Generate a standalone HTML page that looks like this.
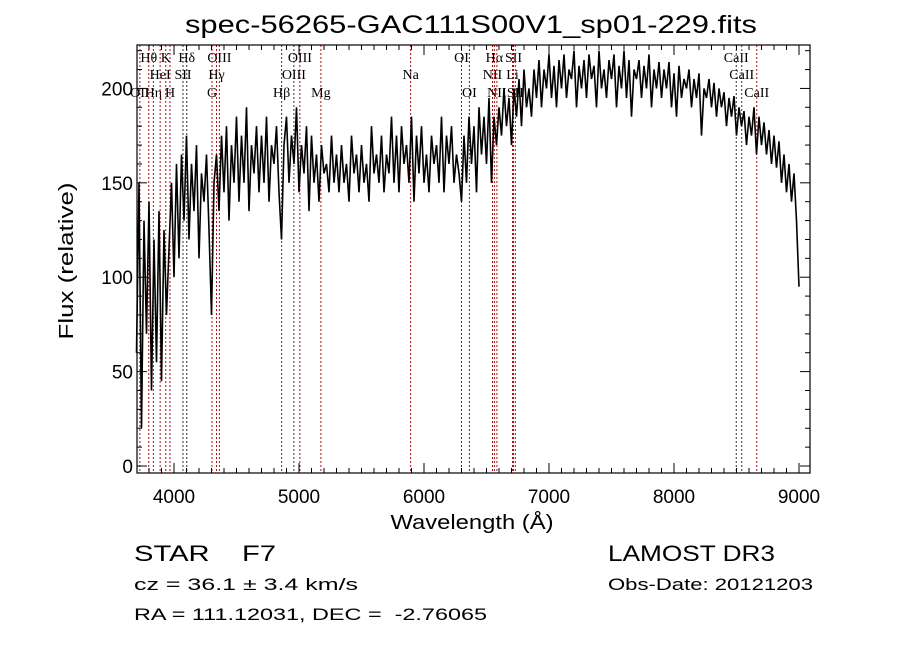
<!DOCTYPE html>
<html><head><meta charset="utf-8"><style>
html,body{margin:0;padding:0;background:#fff;}
svg{display:block;font-family:"Liberation Sans",sans-serif;}
.pre{white-space:pre;}
</style></head><body>
<svg id="chart" width="900" height="649" viewBox="0 0 900 649">
<text x="471" y="33" font-size="25" text-anchor="middle" textLength="572" lengthAdjust="spacingAndGlyphs">spec-56265-GAC111S00V1_sp01-229.fits</text>
<g id="lines"></g>
<g id="spec"></g>
<rect x="137" y="45" width="673" height="428" fill="none" stroke="#000" stroke-width="1.2"/>
<g id="ticks"></g>
<text x="472" y="529" font-size="20" text-anchor="middle" textLength="163" lengthAdjust="spacingAndGlyphs">Wavelength (Å)</text>
<text transform="translate(73,261) rotate(-90)" font-size="20" text-anchor="middle" textLength="157" lengthAdjust="spacingAndGlyphs">Flux (relative)</text>
<text class="pre" x="134" y="561" font-size="22" textLength="142" lengthAdjust="spacingAndGlyphs">STAR    F7</text>
<text x="608" y="561" font-size="22" textLength="167" lengthAdjust="spacingAndGlyphs">LAMOST DR3</text>
<text x="134" y="590" font-size="17" textLength="224" lengthAdjust="spacingAndGlyphs">cz = 36.1 ± 3.4 km/s</text>
<text x="608" y="590" font-size="17" textLength="205" lengthAdjust="spacingAndGlyphs">Obs-Date: 20121203</text>
<text class="pre" x="134" y="620" font-size="17" textLength="353" lengthAdjust="spacingAndGlyphs">RA = 111.12031, DEC =  -2.76065</text>
</svg>
<script>
const startWave = 3700, stepWave = 20;
const flux = [
60,150,20,130,70,140,40,120,55,135,
45,125,80,115,150,100,160,110,165,130,
175,120,160,135,170,110,155,140,165,125,
80,150,165,135,175,145,180,130,170,150,
185,140,175,150,190,135,170,155,180,145,
175,150,185,140,170,160,180,145,120,170,
185,150,175,160,190,145,170,155,180,135,
175,150,165,140,170,155,160,145,175,150,
165,145,170,150,160,140,175,155,165,145,
170,150,160,140,180,155,165,150,175,145,
165,155,185,150,175,145,180,160,170,150,
185,140,175,155,180,150,165,145,175,160,
170,150,185,145,175,160,180,150,165,155,
140,175,150,185,160,180,145,190,165,185,
160,195,150,185,170,190,175,200,180,195,
170,200,185,205,180,210,190,200,185,210,
195,215,190,210,200,218,195,212,190,215,
200,218,195,210,205,220,190,212,200,215,
195,218,205,212,190,220,200,210,195,215,
205,218,190,212,200,220,195,215,185,210,
205,215,195,212,200,218,190,210,200,214,
195,210,200,214,190,208,185,212,195,205,
200,210,190,205,195,208,175,200,195,205,
190,203,185,200,190,198,180,195,185,196,
175,190,180,188,170,185,175,190,165,185,
170,182,165,178,160,175,158,172,150,165,
145,160,140,155,130,95];
const lineWaves = [3727,3798,3835,3889,3934,3968,4072,4102,4304,4340,4363,4861,4959,5007,5175,5893,6300,6363,6548,6563,6583,6708,6716,6731,8498,8542,8662];
const lineNames = ["OII","Hθ","Hη","HeI","K","H","SII","Hδ","G","Hγ","OIII","Hβ","OIII","OIII","Mg","Na","OI","OI","NII","Hα","NII","Li","SII","SII","CaII","CaII","CaII"];
const lineRows = [2,0,2,1,0,2,1,0,2,1,0,2,1,0,2,1,0,2,1,0,2,1,0,2,0,1,2];
const lineDark = [0,0,0,0,0,0,1,1,0,0,0,1,1,0,0,0,1,1,0,0,0,0,0,0,1,1,0];
const xTicks = [4000,5000,6000,7000,8000,9000];
const yTicks = [0,50,100,150,200];
const xMin = 3704, xMax = 9088, yMin = -3.7, yMax = 223;
const X0=137,X1=810,Y0=473,Y1=45;
const NS="http://www.w3.org/2000/svg";
function xs(w){return X0+(w-xMin)/(xMax-xMin)*(X1-X0);}
function ys(v){return Y0-(v-yMin)/(yMax-yMin)*(Y0-Y1);}
function mk(t,a,p){const e=document.createElementNS(NS,t);for(const k in a)e.setAttribute(k,a[k]);p.appendChild(e);return e;}
const gL=document.getElementById('lines');
const rowY=[62,79,97];
lineWaves.forEach((w,i)=>{
  const l=mk('line',{x1:xs(w),x2:xs(w),y1:Y1,y2:Y0,stroke:lineDark[i]?'#333':'#b01010','stroke-width':1,'stroke-dasharray':'2,2'},gL);
  
  
  const t=mk('text',{x:xs(w),y:rowY[lineRows[i]],'font-size':14,'text-anchor':'middle','font-family':'"Liberation Serif",serif'},gL);
  t.textContent=lineNames[i];
  
  
});
const gS=document.getElementById('spec');
let d='';
flux.forEach((v,i)=>{d+=(i?'L':'M')+xs(startWave+i*stepWave).toFixed(1)+','+ys(v).toFixed(1);});
const p=mk('path',{d:d,fill:'none',stroke:'#000','stroke-width':1.6},gS);


const gT=document.getElementById('ticks');
for(let w=3800;w<=9000;w+=100){
  const major=w%1000===0, L=major?10:5, x=xs(w);
  mk('line',{x1:x,x2:x,y1:Y0,y2:Y0-L,stroke:'#000'},gT);
  mk('line',{x1:x,x2:x,y1:Y1,y2:Y1+L,stroke:'#000'},gT);
}
xTicks.forEach(w=>{const t=mk('text',{x:xs(w),y:Y0+30,'font-size':19,'text-anchor':'middle'},gT);t.textContent=w;
  
  });
for(let v=0;v<=220;v+=10){
  const major=v%50===0, L=major?10:5, y=ys(v);
  mk('line',{x1:X0,x2:X0+L,y1:y,y2:y,stroke:'#000'},gT);
  mk('line',{x1:X1,x2:X1-L,y1:y,y2:y,stroke:'#000'},gT);
}
yTicks.forEach(v=>{const t=mk('text',{x:X0-4,y:ys(v)+7,'font-size':19,'text-anchor':'end'},gT);t.textContent=v;
  
  });
</script>
</body></html>
